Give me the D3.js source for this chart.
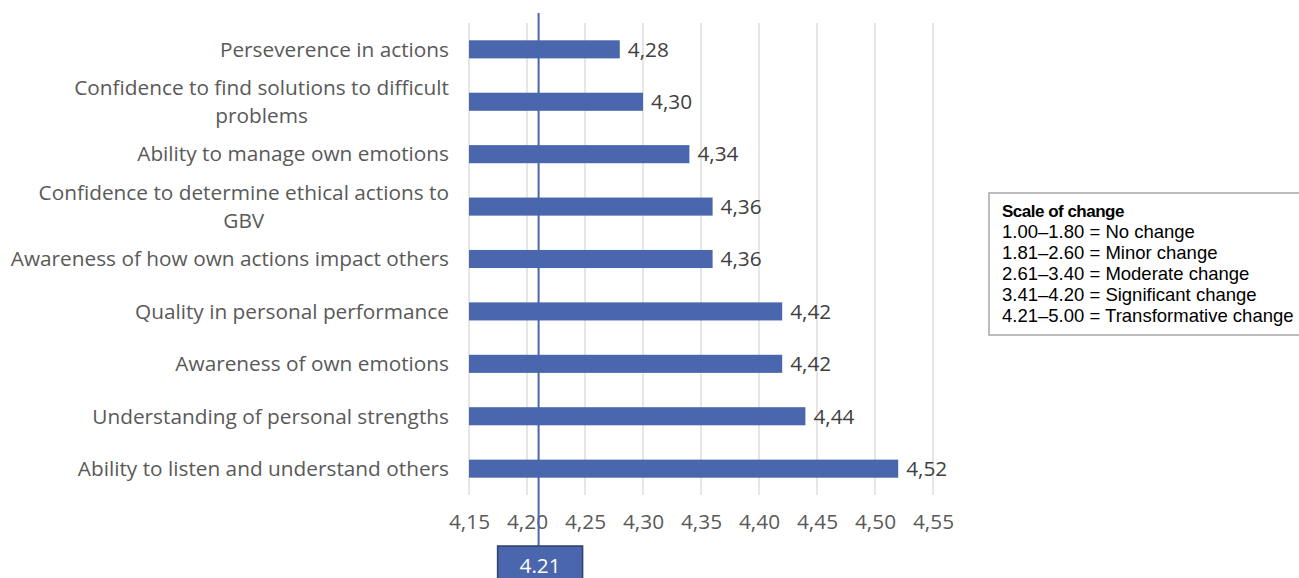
<!DOCTYPE html>
<html>
<head>
<meta charset="utf-8">
<script src="https://cdn.jsdelivr.net/npm/d3@7"></script>
<style>
  html, body { margin: 0; padding: 0; background: #fff; }
  svg { display: block; font-family: "Open Sans", sans-serif; }
</style>
</head>
<body>
<svg id="chart" width="1299" height="578"></svg>
<script>
const categories = [
  ["Perseverence in actions"],
  ["Confidence to find solutions to difficult", "problems"],
  ["Ability to manage own emotions"],
  ["Confidence to determine ethical actions to", "GBV"],
  ["Awareness of how own actions impact others"],
  ["Quality in personal performance"],
  ["Awareness of own emotions"],
  ["Understanding of personal strengths"],
  ["Ability to listen and understand others"]
];
const values = [4.28, 4.30, 4.34, 4.36, 4.36, 4.42, 4.42, 4.44, 4.52];
const tickValues = [4.15, 4.20, 4.25, 4.30, 4.35, 4.40, 4.45, 4.50, 4.55];
const referenceValue = 4.21;
const referenceLabel = "4.21";
const legendTitle = "Scale of change";
const legendLines = [
  "1.00\u20131.80 = No change",
  "1.81\u20132.60 = Minor change",
  "2.61\u20133.40 = Moderate change",
  "3.41\u20134.20 = Significant change",
  "4.21\u20135.00 = Transformative change"
];

const svg = d3.select("#chart");
const barColor = "#4a66ac";
const textColor = "#595959";
const labelSize = 20.8;
const mainFont = "'Open Sans', sans-serif";
const legendFont = "'Liberation Sans', Arial, sans-serif";

const x = d3.scaleLinear().domain([4.15, 4.55]).range([469, 933]);
const y = d3.scaleBand().domain(d3.range(categories.length)).range([23, 495]).paddingInner(0.655).paddingOuter(0.33);

// gridlines
svg.append("g").selectAll("line").data(tickValues).join("line")
  .attr("x1", d => x(d)).attr("x2", d => x(d))
  .attr("y1", 23).attr("y2", 495)
  .attr("stroke", "#d9d9d9").attr("stroke-width", 1.3);

// axis tick labels
const axis = d3.axisBottom(x).tickValues(tickValues).tickSize(0).tickPadding(0)
  .tickFormat(d => d3.format(".2f")(d).replace(".", ","));
const ax = svg.append("g").attr("transform", "translate(0,522)").call(axis);
ax.select(".domain").remove();
ax.attr("font-family", null).attr("font-size", null);
ax.selectAll("text").style("font-size", labelSize + "px").attr("fill", textColor)
  .style("font-family", mainFont).attr("dy", "0.35em");

// bars
svg.append("g").selectAll("rect").data(values).join("rect")
  .attr("x", x(4.15))
  .attr("y", (d, i) => y(i))
  .attr("width", d => x(d) - x(4.15))
  .attr("height", y.bandwidth())
  .attr("fill", barColor);

// value labels
svg.append("g").selectAll("text").data(values).join("text")
  .attr("x", d => x(d) + 8)
  .attr("y", (d, i) => y(i) + y.bandwidth() / 2)
  .attr("dy", "0.35em")
  .style("font-family", mainFont)
  .style("font-size", labelSize + "px").attr("fill", "#404040")
  .text(d => d3.format(".2f")(d).replace(".", ","));

// category labels
const labG = svg.append("g");
const rightEdge = 449;
categories.forEach((lines, i) => {
  const cy = y(i) + y.bandwidth() / 2;
  const lh = 28.5;
  const t = labG.append("text")
    .attr("text-anchor", "middle")
    .style("font-family", mainFont)
    .style("font-size", labelSize + "px").attr("fill", textColor);
  const spans = lines.map((ln, j) => {
    const yy = cy + (j - (lines.length - 1) / 2) * lh;
    return t.append("tspan").attr("y", yy).attr("dy", "0.35em").text(ln);
  });
  const maxW = d3.max(spans, s => s.node().getComputedTextLength());
  spans.forEach(s => s.attr("x", rightEdge - maxW / 2));
});

// reference line
svg.append("line")
  .attr("x1", x(referenceValue)).attr("x2", x(referenceValue))
  .attr("y1", 13).attr("y2", 578)
  .attr("stroke", barColor).attr("stroke-width", 2);

// reference label box
const bw = 85, bh = 34;
const rx = x(referenceValue) - 41;
svg.append("rect").attr("x", rx).attr("y", 546).attr("width", bw).attr("height", bh)
  .attr("fill", barColor).attr("stroke", "#2f3f6e").attr("stroke-width", 1.5);
svg.append("text").attr("x", rx + bw / 2).attr("y", 566).attr("text-anchor", "middle")
  .attr("dy", "0.35em").style("font-family", mainFont)
  .style("font-size", labelSize + "px").attr("fill", "#fff").text(referenceLabel);

// legend
const lg = svg.append("g");
lg.append("rect").attr("x", 989).attr("y", 193).attr("width", 312).attr("height", 142)
  .attr("fill", "#fff").attr("stroke", "#a6a6a6").attr("stroke-width", 1.5);
lg.append("text").attr("x", 1002).attr("y", 211).attr("dy", "0.35em")
  .style("font-family", legendFont)
  .style("font-size", "17px").attr("font-weight", "bold").attr("fill", "#000")
  .attr("letter-spacing", -0.5).text(legendTitle);
lg.selectAll("text.l").data(legendLines).join("text").attr("class", "l")
  .attr("x", 1002).attr("y", (d, i) => 232 + i * 21).attr("dy", "0.35em")
  .style("font-family", legendFont)
  .style("font-size", "18.5px").attr("fill", "#000").text(d => d);
</script>
</body>
</html>
